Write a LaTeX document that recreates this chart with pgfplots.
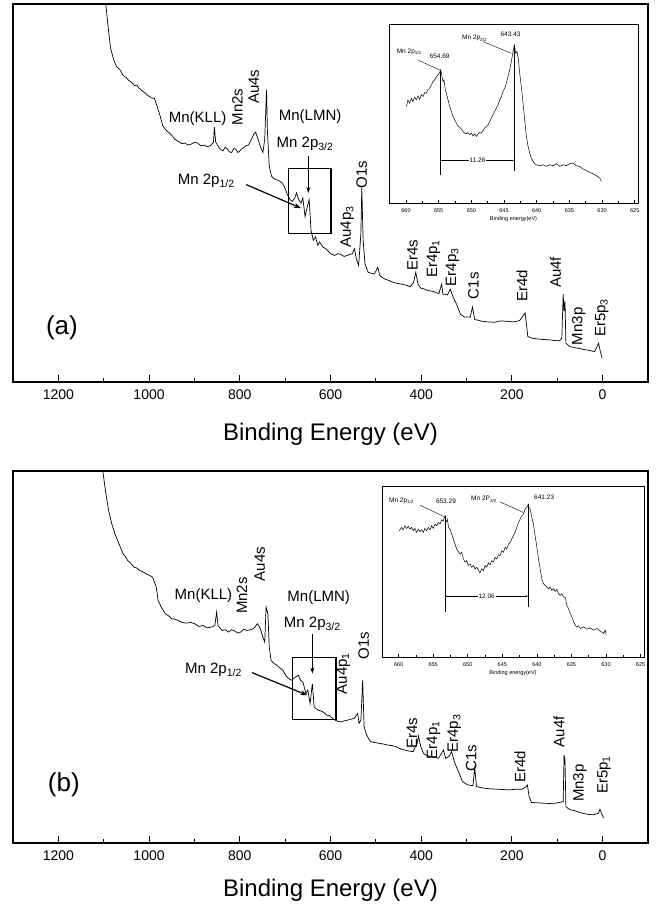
\documentclass[border=0pt]{standalone}
\usepackage{fontspec}
\setmainfont{Liberation Sans}
\usepackage{pgfplots}
\pgfplotsset{compat=1.18}
\usetikzlibrary{arrows.meta}
\tikzset{ann/.style={font=\fontsize{15}{15}\selectfont}, ins/.style={font=\fontsize{6.5}{7}\selectfont}}
\begin{document}
\begin{tikzpicture}
\useasboundingbox (0,0) rectangle (658pt,-905pt);
\pgfplotsset{
  mainax/.style={
    scale only axis, width=635pt, anchor=north west,
    xmin=-100, xmax=1300, x dir=reverse, ymin=0, ymax=1120,
    xtick={0,200,...,1200}, minor xtick={100,300,...,1100},
    ytick=\empty, xtick pos=bottom, tick align=inside,
    major tick length=7pt, minor tick length=4pt,
    axis line style={line width=1.3pt},
    every tick/.style={black, line width=1pt},
    /pgf/number format/assume math mode=true,
    /pgf/number format/1000 sep={},
    xticklabel style={font=\fontsize{14}{14}\selectfont, yshift=-4pt},
    xlabel={Binding Energy (eV)},
  },
  inax/.style={
    scale only axis, anchor=north west, x dir=reverse, ymin=0,
    xtick={625,630,...,660}, minor x tick num=1,
    ytick=\empty, xtick pos=bottom, tick align=inside,
    major tick length=3pt, minor tick length=2pt,
    axis line style={line width=0.8pt},
    every tick/.style={black, line width=0.6pt},
    axis background/.style={fill=white},
    /pgf/number format/assume math mode=true,
    xticklabel style={font=\fontsize{5.5}{6}\selectfont, yshift=-2pt},
    xlabel={Binding energy(eV)},
    xlabel style={font=\fontsize{5.5}{6}\selectfont, at={(axis description cs:0.5,0)}, anchor=center, yshift=-16pt},
  },
}
% ---------------- panel (a) ----------------
\begin{axis}[mainax, at={(13pt,-4pt)}, height=378pt,
  xlabel style={font=\fontsize{24}{24}\selectfont, at={(axis description cs:0.5,0)}, anchor=center, yshift=-52pt}]
\addplot[black, line width=0.7pt] coordinates {
(1097,1140) (1090,1050) (1085,990) (1078,955) (1072,935) (1064,925) (1057,908) (1050,902) (1046,895) (1041,890) (1036,884) (1032,878) (1027,880) (1023,872) (1018,866) (1013,860) (1008,856) (1004,850) (999,846) (995,842) (988,840) (983,820) (976,790) (970,760) (966,752) (962,745) (957,740) (953,735) (948,728) (944,720) (939,716) (934,712) (928,706) (921,708) (914,702) (907,705) (900,710) (893,708) (886,700) (879,702) (872,697) (865,700) (858,710) (856,755) (853,710) (846,695) (841,688) (837,685) (832,695) (828,692) (823,682) (818,680) (813,692) (809,690) (804,680) (800,685) (795,692) (791,695) (786,700) (781,702) (774,720) (769,735) (765,740) (760,720) (754,695) (749,680) (745,720) (741,865) (739,740) (735,640) (730,610) (726,604) (721,600) (716,598) (712,595) (707,590) (702,580) (695,555) (689,540) (684,535) (679,545) (675,560) (670,540) (665,530) (661,545) (656,490) (651,520) (647,540) (643,450) (638,420) (633,430) (628,405) (624,415) (617,400) (610,395) (605,388) (600,380) (596,378) (591,375) (584,380) (577,378) (570,372) (563,375) (557,378) (552,380) (547,395) (543,365) (538,345) (533,440) (531,575) (528,420) (524,350) (517,325) (510,322) (503,320) (496,340) (491,315) (486,310) (480,305) (470,300) (461,295) (452,292) (443,290) (434,287) (424,282) (417,295) (412,325) (407,290) (401,278) (394,276) (387,272) (380,270) (373,268) (367,265) (361,262) (355,290) (352,260) (347,260) (342,258) (336,275) (329,250) (322,230) (313,200) (304,192) (298,193) (292,192) (287,222) (282,185) (274,183) (266,180) (252,178) (239,177) (225,181) (211,180) (197,178) (183,182) (176,195) (171,205) (167,160) (165,135) (156,130) (146,128) (132,126) (118,125) (106,123) (95,122) (90,130) (87,260) (85,210) (83,240) (81,115) (77,110) (72,105) (63,102) (53,100) (44,97) (35,95) (27,93) (18,90) (12,105) (9,115) (5,90) (1,70)
};
\node[ann] at (axis cs:893,780) {Mn(KLL)};
\node[ann, rotate=90] at (axis cs:805,815) {Mn2s};
\node[ann, rotate=90] at (axis cs:769,875) {Au4s};
\node[ann] at (axis cs:645,785) {Mn(LMN)};
\node[ann] at (axis cs:656,705) {Mn 2p\textsubscript{3/2}};
\draw[line width=0.6pt, -{Stealth[length=6pt,width=4pt]}] (axis cs:649,670) -- (axis cs:649,560);
\node[ann] at (axis cs:874,595) {Mn 2p\textsubscript{1/2}};
\draw[line width=1.2pt, -{Stealth[length=7pt,width=5pt]}] (axis cs:786,585) -- (axis cs:665,515);
\draw[line width=1.2pt] (axis cs:693,633) rectangle (axis cs:599,440);
\node[ann, rotate=90] at (axis cs:531,615) {O1s};
\node[ann, rotate=90] at (axis cs:563,460) {Au4p\textsubscript{3}};
\node[ann, rotate=90] at (axis cs:419,375) {Er4s};
\node[ann, rotate=90] at (axis cs:373,365) {Er4p\textsubscript{1}};
\node[ann, rotate=90] at (axis cs:331,340) {Er4p\textsubscript{3}};
\node[ann, rotate=90] at (axis cs:285,285) {C1s};
\node[ann, rotate=90] at (axis cs:178,285) {Er4d};
\node[ann, rotate=90] at (axis cs:104,325) {Au4f};
\node[ann, rotate=90] at (axis cs:53,165) {Mn3p};
\node[ann, rotate=90] at (axis cs:2,190) {Er5p\textsubscript{3}};
\node[font=\fontsize{26}{26}\selectfont] at (axis cs:1192,162) {(a)};
\end{axis}
% ---------------- inset (a) ----------------
\begin{axis}[inax, at={(389pt,-24pt)}, width=249pt, height=179pt, xmin=624.5, xmax=662.6, ymax=538]
\addplot[black, line width=0.5pt] coordinates {
(659.95,290) (659.69,310) (659.44,300) (659.18,315) (658.93,305) (658.67,318) (658.42,310) (658.16,322) (657.91,312) (657.65,325) (657.40,320) (657.14,332) (656.89,330) (656.63,340) (656.38,345) (656.12,355) (655.87,365) (655.61,370) (655.36,380) (655.10,385) (654.85,392) (654.69,400) (654.49,380) (654.33,365) (654.18,370) (653.98,340) (653.82,330) (653.57,310) (653.31,290) (653.06,275) (652.80,260) (652.55,250) (652.29,240) (652.04,230) (651.78,228) (651.53,222) (651.27,215) (651.02,210) (650.76,208) (650.51,212) (650.25,205) (650.00,210) (649.74,202) (649.49,208) (649.23,200) (648.98,208) (648.72,212) (648.47,210) (648.21,218) (647.96,225) (647.70,230) (647.45,235) (647.19,245) (646.94,255) (646.68,265) (646.43,275) (646.17,285) (645.92,295) (645.66,310) (645.41,320) (645.15,335) (644.90,345) (644.64,360) (644.39,380) (644.13,400) (643.88,425) (643.62,455) (643.43,475) (643.21,450) (643.01,455) (642.80,430) (642.60,390) (642.35,350) (642.09,300) (641.84,250) (641.58,200) (641.32,170) (641.07,150) (640.81,135) (640.56,125) (640.30,118) (640.05,115) (639.54,112) (639.03,115) (638.52,110) (638.01,115) (637.50,112) (636.99,118) (636.48,110) (635.97,115) (635.46,112) (634.95,118) (634.44,120) (633.93,112) (633.42,110) (632.91,102) (632.40,98) (631.89,92) (631.38,88) (630.87,82) (630.36,75) (630.10,65)
};
\node[ins] at (axis cs:659.5,455) {Mn 2p\textsubscript{1/2}};
\node[ins] at (axis cs:654.85,440) {654.69};
\draw[line width=0.4pt] (axis cs:658.16,430) -- (axis cs:654.69,398);
\node[ins] at (axis cs:649.5,495) {Mn 2p\textsubscript{3/2}};
\node[ins] at (axis cs:644,508) {643.43};
\draw[line width=0.4pt] (axis cs:648.2,485) -- (axis cs:643.9,450);
\draw[line width=0.4pt] (axis cs:654.69,398) -- (axis cs:654.69,85);
\draw[line width=0.4pt] (axis cs:643.43,475) -- (axis cs:643.43,95);
\draw[line width=0.4pt, {Latex[length=2pt]}-{Latex[length=2pt]}] (axis cs:654.69,128) -- (axis cs:643.43,128) node[midway, fill=white, inner sep=1pt, ins] {11.26};
\end{axis}
% ---------------- panel (b) ----------------
\begin{axis}[mainax, at={(13pt,-471pt)}, height=372pt,
  xlabel style={font=\fontsize{24}{24}\selectfont, at={(axis description cs:0.5,0)}, anchor=center, yshift=-47pt}]
\addplot[black, line width=0.7pt] coordinates {
(1105,1150) (1095,1050) (1089,1000) (1082,960) (1075,930) (1066,900) (1057,870) (1052,862) (1047,850) (1040,842) (1033,830) (1027,828) (1020,820) (1013,816) (1006,810) (999,806) (992,800) (984,770) (980,730) (973,710) (964,690) (957,684) (950,675) (943,674) (936,670) (927,664) (918,662) (908,664) (899,660) (890,652) (881,655) (872,648) (862,650) (855,655) (851,695) (848,655) (839,640) (832,642) (825,635) (818,642) (811,638) (804,632) (798,635) (791,644) (784,640) (777,642) (770,645) (761,660) (756,650) (749,620) (745,605) (742,710) (738,690) (735,590) (731,550) (724,540) (719,536) (714,530) (709,524) (705,520) (700,508) (696,500) (691,494) (686,490) (677,500) (671,505) (666,490) (661,485) (654,450) (650,460) (645,420) (640,480) (636,410) (631,404) (627,400) (622,398) (617,395) (612,390) (608,385) (603,384) (599,380) (594,374) (590,370) (583,366) (576,365) (569,368) (562,370) (555,373) (548,375) (540,390) (537,360) (533,370) (529,490) (526,350) (520,325) (515,312) (511,305) (501,302) (492,300) (483,298) (474,295) (464,293) (455,290) (446,284) (437,280) (427,277) (418,275) (409,300) (406,322) (401,290) (395,270) (390,265) (383,262) (376,260) (369,258) (362,255) (355,270) (351,280) (346,255) (339,260) (333,275) (327,245) (318,215) (309,185) (298,175) (292,174) (286,172) (282,225) (278,170) (270,167) (261,165) (247,163) (233,162) (219,161) (205,160) (191,162) (178,162) (168,170) (166,175) (162,140) (157,122) (144,121) (131,120) (118,119) (104,120) (95,122) (87,125) (85,265) (83,250) (81,110) (76,104) (71,100) (64,98) (57,95) (48,91) (39,88) (30,86) (20,85) (9,90) (6,102) (2,88) (-2,75)
};
\node[ann] at (axis cs:880,745) {Mn(KLL)};
\node[ann, rotate=90] at (axis cs:795,745) {Mn2s};
\node[ann, rotate=90] at (axis cs:756,840) {Au4s};
\node[ann] at (axis cs:626,740) {Mn(LMN)};
\node[ann] at (axis cs:640,660) {Mn 2p\textsubscript{3/2}};
\draw[line width=0.6pt, -{Stealth[length=6pt,width=4pt]}] (axis cs:640,630) -- (axis cs:640,510);
\node[ann] at (axis cs:858,520) {Mn 2p\textsubscript{1/2}};
\draw[line width=1.2pt, -{Stealth[length=7pt,width=5pt]}] (axis cs:773,513) -- (axis cs:651,445);
\draw[line width=1.2pt] (axis cs:684,558) rectangle (axis cs:588,372);
\node[ann, rotate=90] at (axis cs:572,510) {Au4p\textsubscript{1}};
\node[ann, rotate=90] at (axis cs:527,595) {O1s};
\node[ann, rotate=90] at (axis cs:420,330) {Er4s};
\node[ann, rotate=90] at (axis cs:373,310) {Er4p\textsubscript{1}};
\node[ann, rotate=90] at (axis cs:327,330) {Er4p\textsubscript{3}};
\node[ann, rotate=90] at (axis cs:290,255) {C1s};
\node[ann, rotate=90] at (axis cs:182,230) {Er4d};
\node[ann, rotate=90] at (axis cs:96,335) {Au4f};
\node[ann, rotate=90] at (axis cs:50,180) {Mn3p};
\node[ann, rotate=90] at (axis cs:-3,205) {Er5p\textsubscript{1}};
\node[font=\fontsize{26}{26}\selectfont] at (axis cs:1188,175) {(b)};
\end{axis}
% ---------------- inset (b) ----------------
\begin{axis}[inax, at={(382pt,-486pt)}, width=262pt, height=171pt, xmin=624.5, xmax=662.4, ymax=516]
\addplot[black, line width=0.5pt] coordinates {
(659.91,381) (659.57,391) (659.33,384) (659.09,396) (658.85,388) (658.60,394) (658.36,386) (658.12,391) (657.88,381) (657.64,388) (657.40,376) (657.15,386) (656.91,378) (656.67,384) (656.43,376) (656.19,388) (655.95,381) (655.71,391) (655.46,384) (655.22,396) (654.98,388) (654.74,401) (654.50,396) (654.26,406) (654.01,401) (653.77,414) (653.53,411) (653.29,426) (653.15,406) (652.95,416) (652.76,391) (652.57,386) (652.32,371) (652.08,356) (651.84,341) (651.60,326) (651.36,318) (651.12,311) (650.87,316) (650.63,296) (650.39,286) (650.15,291) (649.91,276) (649.67,281) (649.43,271) (649.18,276) (648.94,266) (648.70,271) (648.46,261) (648.22,254) (647.98,266) (647.73,261) (647.49,276) (647.25,271) (647.01,284) (646.77,278) (646.53,291) (646.29,286) (646.04,301) (645.80,296) (645.56,308) (645.32,306) (645.08,321) (644.84,316) (644.59,331) (644.35,326) (644.11,341) (643.87,346) (643.63,356) (643.39,366) (643.15,376) (642.90,391) (642.66,406) (642.42,416) (642.18,426) (641.94,431) (641.70,446) (641.45,451) (641.23,461) (641.16,451) (640.97,446) (640.73,421) (640.49,401) (640.25,366) (640.00,331) (639.76,296) (639.52,266) (639.28,236) (639.04,221) (638.80,216) (638.56,211) (638.31,206) (638.07,211) (637.83,201) (637.59,206) (637.35,198) (637.11,204) (636.87,191) (636.62,186) (636.38,191) (636.14,181) (635.90,181) (635.66,156) (635.42,146) (635.17,131) (634.93,121) (634.69,106) (634.45,96) (634.21,91) (633.97,94) (633.73,86) (633.24,91) (632.76,84) (632.28,88) (631.79,81) (631.31,86) (630.83,78) (630.34,71) (630.10,81) (629.96,66)
};
\node[ins] at (axis cs:659.57,471) {Mn 2p\textsubscript{1/2}};
\node[ins] at (axis cs:653.15,471) {653.29};
\draw[line width=0.4pt] (axis cs:656.91,458) -- (axis cs:653.43,424);
\node[ins] at (axis cs:647.64,476) {Mn 2P\textsubscript{3/2}};
\node[ins] at (axis cs:638.94,481) {641.23};
\draw[line width=0.4pt] (axis cs:645.32,468) -- (axis cs:641.94,436);
\draw[line width=0.4pt] (axis cs:653.29,424) -- (axis cs:653.29,136);
\draw[line width=0.4pt] (axis cs:641.23,461) -- (axis cs:641.23,151);
\draw[line width=0.4pt, {Latex[length=2pt]}-{Latex[length=2pt]}] (axis cs:653.29,184) -- (axis cs:641.23,184) node[midway, fill=white, inner sep=1pt, ins] {12.06};
\end{axis}
\end{tikzpicture}
\end{document}
